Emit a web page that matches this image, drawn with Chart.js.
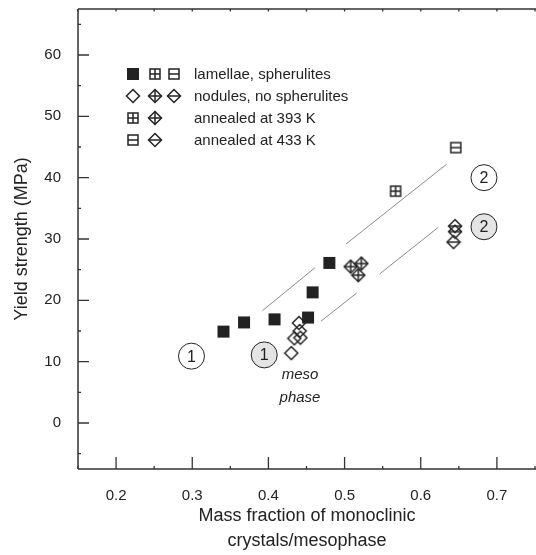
<!DOCTYPE html>
<html>
<head>
<meta charset="utf-8">
<script src="https://cdn.jsdelivr.net/npm/chart.js@4.4.0/dist/chart.umd.min.js"></script>
<style>
  html, body { margin: 0; padding: 0; background: #fff; overflow: hidden; }
  #wrap { width: 540px; height: 555px; }
</style>
</head>
<body>
<div id="wrap"><canvas id="yieldChart" width="540" height="555"></canvas></div>
<script>
// values
var xTicks = [0.2, 0.3, 0.4, 0.5, 0.6, 0.7];
var yTicks = [0, 10, 20, 30, 40, 50, 60];

var lamellaeX = [0.341, 0.368, 0.408, 0.452, 0.458, 0.480];
var lamellaeY = [14.9, 16.4, 16.9, 17.2, 21.3, 26.1];
var nodulesX = [0.430, 0.434, 0.442, 0.441, 0.440];
var nodulesY = [11.4, 13.8, 13.9, 15.0, 16.3];
var lam393X = [0.567];
var lam393Y = [37.8];
var lam433X = [0.646];
var lam433Y = [44.9];
var nod393X = [0.508, 0.522, 0.518];
var nod393Y = [25.5, 26.0, 24.1];
var nod433X = [0.645, 0.645, 0.643];
var nod433Y = [32.1, 31.2, 29.5];

// guide lines (null = gap)
var upperX = [0.392, 0.461, 0.48, 0.502, 0.634];
var upperY = [18.3, 25.3, null, 29.2, 42.2];
var lowerX = [0.469, 0.516, 0.53, 0.546, 0.623];
var lowerY = [16.6, 21.2, null, 24.3, 31.9];

var regionLabels = ["1", "1", "2", "2"];
var regionX = [0.299, 0.3945, 0.683, 0.683];
var regionY = [10.9, 11.1, 40.0, 32.0];
var regionShaded = [false, true, false, true];

var legendLabels = ["lamellae, spherulites", "nodules, no spherulites", "annealed at 393 K", "annealed at 433 K"];

var INK = "#222";
var FONT = "'Liberation Sans', Arial, Helvetica, sans-serif";

function pts(xs, ys) {
  return xs.map(function (x, i) { return { x: x, y: ys[i] }; });
}

function makeMarker(kind) {
  var s = 16, c = document.createElement("canvas");
  c.width = s; c.height = s;
  var g = c.getContext("2d"), m = s / 2;
  g.strokeStyle = INK; g.fillStyle = INK; g.lineWidth = 1.5;
  if (kind === "sqFill") {
    g.fillRect(2, 2, 12, 12);
  } else if (kind === "sqCross" || kind === "sqHalf") {
    g.strokeRect(3, 3, 10, 10);
    g.beginPath();
    g.moveTo(3, m); g.lineTo(13, m);
    if (kind === "sqCross") { g.moveTo(m, 3); g.lineTo(m, 13); }
    g.stroke();
  } else {
    var r = 6.5;
    g.beginPath();
    g.moveTo(m, m - r); g.lineTo(m + r, m); g.lineTo(m, m + r); g.lineTo(m - r, m); g.closePath();
    g.stroke();
    if (kind !== "dmOpen") {
      g.beginPath();
      g.moveTo(m - r, m); g.lineTo(m + r, m);
      if (kind === "dmCross") { g.moveTo(m, m - r); g.lineTo(m, m + r); }
      g.stroke();
    }
  }
  return c;
}

var mk = {
  sqFill: makeMarker("sqFill"),
  sqCross: makeMarker("sqCross"),
  sqHalf: makeMarker("sqHalf"),
  dmOpen: makeMarker("dmOpen"),
  dmCross: makeMarker("dmCross"),
  dmHalf: makeMarker("dmHalf")
};

function markerSet(label, xs, ys, img) {
  return { label: label, data: pts(xs, ys), pointStyle: img, showLine: false };
}

var decorPlugin = {
  id: "decor",
  afterDraw: function (chart) {
    var ctx = chart.ctx, a = chart.chartArea;
    var xs = chart.scales.x, ys = chart.scales.y;
    ctx.save();
    // frame: left, bottom, top
    ctx.strokeStyle = "#333"; ctx.lineWidth = 1.5;
    ctx.beginPath();
    ctx.moveTo(a.left, a.top); ctx.lineTo(a.left, a.bottom);
    ctx.moveTo(a.left, a.bottom); ctx.lineTo(a.right + 4, a.bottom);
    ctx.moveTo(a.left, a.top); ctx.lineTo(a.right + 4, a.top);
    ctx.stroke();
    // ticks (inward)
    ctx.lineWidth = 1.3;
    ctx.beginPath();
    for (var v = 0.15; v <= 0.751; v += 0.05) {
      var px = xs.getPixelForValue(v);
      var major = Math.abs(v * 10 - Math.round(v * 10)) < 1e-6;
      ctx.moveTo(px, a.bottom); ctx.lineTo(px, a.bottom - (major ? 12 : 3));
      ctx.moveTo(px, a.top); ctx.lineTo(px, a.top + 2.5);
    }
    for (var w = -5; w <= 65; w += 5) {
      var py = ys.getPixelForValue(w);
      ctx.moveTo(a.left, py); ctx.lineTo(a.left + (w % 10 === 0 ? 11 : 3), py);
    }
    ctx.stroke();

    // circled region labels
    ctx.font = "16px " + FONT;
    ctx.textAlign = "center"; ctx.textBaseline = "middle";
    regionLabels.forEach(function (t, i) {
      var cx = xs.getPixelForValue(regionX[i]), cy = ys.getPixelForValue(regionY[i]);
      ctx.beginPath();
      ctx.arc(cx, cy, 13, 0, Math.PI * 2);
      ctx.fillStyle = regionShaded[i] ? "#e4e4e4" : "#fff";
      ctx.fill();
      ctx.lineWidth = 1; ctx.strokeStyle = INK; ctx.stroke();
      ctx.fillStyle = INK;
      ctx.fillText(t, cx, cy + 1);
    });

    // meso phase note
    ctx.font = "italic 15px " + FONT;
    var mx = xs.getPixelForValue(0.4415);
    ctx.fillText("meso", mx, ys.getPixelForValue(7.8));
    ctx.fillText("phase", mx, ys.getPixelForValue(4.1));

    // legend block
    var rows = [
      [mk.sqFill, mk.sqCross, mk.sqHalf],
      [mk.dmOpen, mk.dmCross, mk.dmHalf],
      [mk.sqCross, mk.dmCross],
      [mk.sqHalf, mk.dmHalf]
    ];
    var colX = [133, 155, 174];
    ctx.font = "15px " + FONT;
    ctx.textAlign = "left";
    rows.forEach(function (r, i) {
      var ry = 74 + i * 22;
      r.forEach(function (img, j) { ctx.drawImage(img, colX[j] - 8, ry - 8); });
      ctx.fillText(legendLabels[i], 194, ry + 1);
    });

    // axis titles
    ctx.font = "18px " + FONT;
    ctx.textAlign = "center";
    ctx.fillText("Mass fraction of monoclinic", 307, 516);
    ctx.fillText("crystals/mesophase", 307, 541);
    ctx.translate(22, ys.getPixelForValue(30));
    ctx.rotate(-Math.PI / 2);
    ctx.fillText("Yield strength (MPa)", 0, 0);
    ctx.restore();
  }
};

var lineStyle = { showLine: true, pointRadius: 0, borderColor: "#8a8a8a", borderWidth: 1, spanGaps: false };

new Chart(document.getElementById("yieldChart"), {
  type: "scatter",
  data: {
    datasets: [
      Object.assign({ label: "upper", data: pts(upperX, upperY) }, lineStyle),
      Object.assign({ label: "lower", data: pts(lowerX, lowerY) }, lineStyle),
      markerSet("lamellae", lamellaeX, lamellaeY, mk.sqFill),
      markerSet("nodules", nodulesX, nodulesY, mk.dmOpen),
      markerSet("lamellae 393 K", lam393X, lam393Y, mk.sqCross),
      markerSet("lamellae 433 K", lam433X, lam433Y, mk.sqHalf),
      markerSet("nodules 393 K", nod393X, nod393Y, mk.dmCross),
      markerSet("nodules 433 K", nod433X, nod433Y, mk.dmHalf)
    ]
  },
  options: {
    responsive: false,
    animation: false,
    layout: { padding: { top: 9, right: 2, left: 0, bottom: 0 } },
    plugins: { legend: { display: false }, tooltip: { enabled: false } },
    scales: {
      x: {
        type: "linear", min: 0.15, max: 0.75,
        afterFit: function (s) { s.height = 86; s.paddingLeft = 0; s.paddingRight = 0; },
        afterBuildTicks: function (s) { s.ticks = xTicks.map(function (v) { return { value: v }; }); },
        grid: { display: false },
        border: { display: false },
        ticks: { padding: 10, color: INK, font: { family: FONT, size: 15 }, maxRotation: 0,
          callback: function (v) { return v.toFixed(1); } }
      },
      y: {
        type: "linear", min: -7.5, max: 67.5,
        afterFit: function (s) { s.width = 78; s.paddingTop = 0; s.paddingBottom = 0; },
        afterBuildTicks: function (s) { s.ticks = yTicks.map(function (v) { return { value: v }; }); },
        grid: { display: false },
        border: { display: false },
        ticks: { padding: 9, color: INK, font: { family: FONT, size: 15 } }
      }
    }
  },
  plugins: [decorPlugin]
});
</script>
</body>
</html>
